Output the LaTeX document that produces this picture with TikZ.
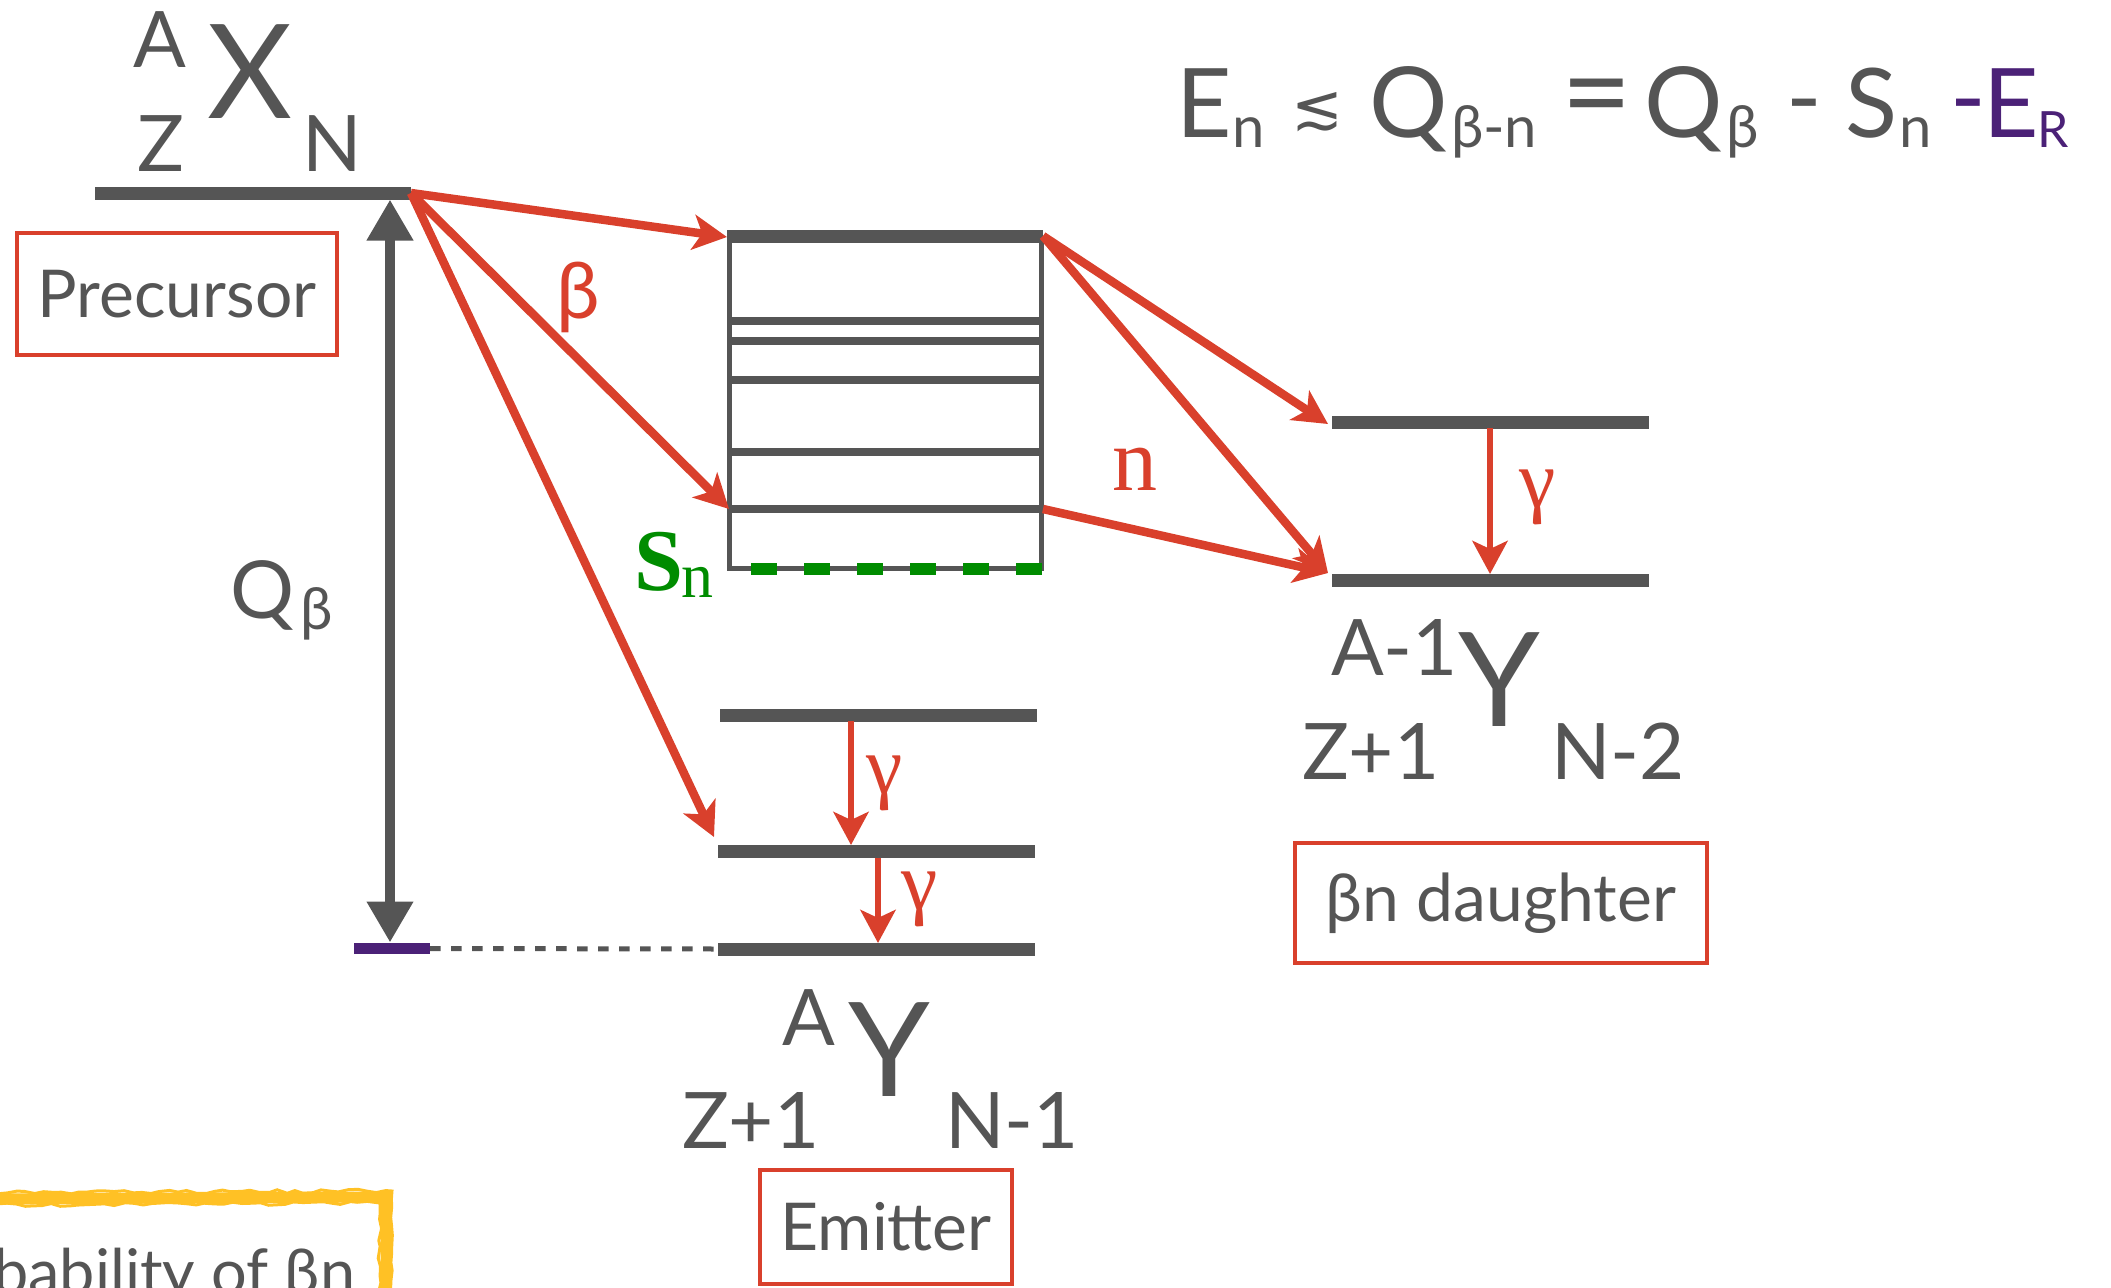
\documentclass[tikz,border=0pt]{standalone}
\usepackage{fontspec}
\setmainfont{Lato}
\newfontfamily\serifR{Liberation Serif}
\newfontfamily\dejavu{DejaVu Sans}
\usetikzlibrary{arrows.meta,decorations.pathmorphing}
\definecolor{dg}{HTML}{555555}
\definecolor{rd}{HTML}{D9402C}
\definecolor{gn}{HTML}{008C00}
\definecolor{pu}{HTML}{4B2177}
\definecolor{yl}{HTML}{FFC125}
\newcommand\fsz[1]{\fontsize{#1}{#1}\selectfont}
\begin{document}
\begin{tikzpicture}[x=1pt,y=-1pt,
  txt/.style={inner sep=0pt, outer sep=0pt, anchor=base west, text=dg},
  ctxt/.style={inner sep=0pt, outer sep=0pt, anchor=center},
  level/.style={draw=dg, line width=13pt},
  inner/.style={draw=dg, line width=8pt},
  rarr/.style={draw=rd, line width=8.5pt, -{Stealth[length=34pt,width=35pt,inset=9pt]}},
  garr/.style={draw=rd, line width=6.5pt, -{Stealth[length=33pt,width=35pt,inset=8pt]}},
  lbl/.style={draw=rd, line width=4pt, text=dg, font=\fsz{66}, inner sep=0pt}]
\useasboundingbox (0,0) rectangle (2111,1287);
\clip (0,0) rectangle (2111,1287);

% ---------- coordinates ----------
\coordinate (preL) at (95,193);   \coordinate (preR) at (411,193);
\coordinate (cTL) at (727,236);   \coordinate (cTR) at (1043,236);
\coordinate (cBL) at (729.5,568); \coordinate (cBR) at (1041,568);
\coordinate (c5L) at (729,509);   \coordinate (c5R) at (1043,509);
\coordinate (e1L) at (720,715);   \coordinate (e1R) at (1037,715);
\coordinate (e2L) at (718,851);   \coordinate (e2R) at (1035,851);
\coordinate (e3L) at (718,949);   \coordinate (e3R) at (1035,949);
\coordinate (d1L) at (1332,422);  \coordinate (d1R) at (1649,422);
\coordinate (d2L) at (1332,580);  \coordinate (d2R) at (1649,580);
\coordinate (qTop) at (390,199.5);\coordinate (qBot) at (390,942.5);
\coordinate (puL) at (354,948.5); \coordinate (puR) at (430,948.5);
\coordinate (a1) at (727,237);    \coordinate (a2) at (729,509);
\coordinate (a3) at (714,837);
\coordinate (b1) at (1328,424);   \coordinate (b2) at (1328,573);
\coordinate (g1s) at (851,721);   \coordinate (g1e) at (851,845);
\coordinate (g2s) at (878,858);   \coordinate (g2e) at (878,943);
\coordinate (gds) at (1490,428);  \coordinate (gde) at (1490,574);

% ---------- levels ----------
\draw[level] (preL) -- (preR);
\draw[dg, line width=5pt] (729.5,236) -- (cBL) -- (cBR) -- (1041,236);
\foreach \yy in {321,341,380,452,509} \draw[inner] (729.5,\yy) -- (1041,\yy);
\draw[level] (cTL) -- (cTR);
\draw[gn, line width=12pt, dash pattern=on 26pt off 27pt] (751,569) -- (1043,569);
\draw[level] (e1L) -- (e1R);
\draw[level] (e2L) -- (e2R);
\draw[level] (e3L) -- (e3R);
\draw[level] (d1L) -- (d1R);
\draw[level] (d2L) -- (d2R);

% Q beta arrow, purple bar, dotted line
\draw[dg, line width=10.5pt, {Triangle[length=41pt,width=44pt]}-{Triangle[length=41pt,width=44pt]}] (qTop) -- (qBot);
\draw[dg, line width=5pt, dash pattern=on 10.5pt off 10.5pt] (puR) -- (e3L);
\draw[pu, line width=11pt] (puL) -- (puR);

% ---------- red arrows ----------
\draw[rarr] (preR) -- (a1);
\draw[rarr] (preR) -- (a2);
\draw[rarr] (preR) -- (a3);
\draw[rarr] (cTR) -- (b1);
\draw[rarr] (cTR) -- (b2);
\draw[rarr] (c5R) -- (b2);
\draw[garr] (g1s) -- (g1e);
\draw[garr] (g2s) -- (g2e);
\draw[garr] (gds) -- (gde);

% ---------- nuclide labels ----------
\node[txt, font=\fsz{78}] (pA) at (133,68) {A};
\node[txt, font=\fsz{131}] (pX) at (207,119) {X};
\node[txt, font=\fsz{78}] (pZ) at (137,171) {Z};
\node[txt, font=\fsz{78}] (pN) at (302,171) {N};

\node[txt, font=\fsz{78}] (eA) at (782,1045) {A};
\node[txt, font=\fsz{131}] (eY) at (848,1096) {Y};
\node[txt, font=\fsz{78}] (eZ) at (682,1148) {Z+1};
\node[txt, font=\fsz{78}] (eN) at (945,1148) {N-1};

\node[txt, font=\fsz{78}] (dA) at (1331,675) {A-1};
\node[txt, font=\fsz{131}] (dY) at (1458,726) {Y};
\node[txt, font=\fsz{78}] (dZ) at (1302,779) {Z+1};
\node[txt, font=\fsz{78}] (dN) at (1551,779) {N-2};

% Q beta label
\node[txt, font=\fsz{80}] (qQ) at (230,618) {Q};
\node[txt, font=\fsz{58}] (qB) at (300,629) {β};

% ---------- formula ----------
\node[txt, font=\fsz{96}] (f1) at (1176,137) {E};
\node[txt, font=\fsz{58}] (f2) at (1232,147) {n};
\node[ctxt, text=dg, font=\dejavu\fsz{62}] (f3) at (1317,112) {≲};
\node[txt, font=\fsz{98}] (f4) at (1369,137) {Q};
\node[txt, font=\fsz{58}] (f5) at (1451,147) {β-n};
\node[ctxt, text=dg, font=\fsz{122}] (f6) at (1597,107) {=};
\node[txt, font=\fsz{98}] (f7) at (1644,137) {Q};
\node[txt, font=\fsz{58}] (f8) at (1726,147) {β};
\node[ctxt, text=dg, font=\fsz{96}] (f9) at (1804,115) {-};
\node[txt, font=\fsz{96}] (f10) at (1845,137) {S};
\node[txt, font=\fsz{58}] (f11) at (1899,147) {n};
\node[ctxt, text=pu, font=\fsz{96}] (f12) at (1968,115) {-};
\node[txt, text=pu, font=\fsz{96}] (f13) at (1983,137) {E};
\node[txt, text=pu, font=\fsz{50}] (f14) at (2037,147) {R};

% ---------- transition labels ----------
\node[txt, text=rd, font=\fsz{78}] (blab) at (556,318) {β};
\node[txt, text=rd, font=\serifR\fsz{90}] (nlab) at (1112,490) {n};
\node[txt, text=rd, font=\serifR\fsz{82}] (gdl) at (1519,507) {γ};
\node[txt, text=rd, font=\serifR\fsz{82}] (g1l) at (866,793) {γ};
\node[txt, text=rd, font=\serifR\fsz{82}] (g2l) at (901,909) {γ};
\node[txt, text=gn, font=\serifR\bfseries\fsz{88}] (snS) at (634,590) {S};
\node[txt, text=gn, font=\serifR\fsz{64}] (snN) at (681,597) {n};

% ---------- boxed labels ----------
\node[lbl, minimum width=320pt, minimum height=122pt] (prec) at (177,294) {Precursor};
\node[lbl, minimum width=252pt, minimum height=114pt] (emit) at (886,1227) {Emitter};
\node[lbl, minimum width=412pt, minimum height=120pt] (bnd) at (1501,903) {βn daughter};

% ---------- yellow rough box (bottom left) ----------
\pgfmathsetseed{7}
\draw[yl, line width=11pt] (-20,1199) -- (386,1197) -- (386,1300);
\draw[yl, line width=3pt, decorate, decoration={random steps, segment length=9pt, amplitude=1.8pt}] (-20,1193) -- (392,1191) -- (392,1300);
\draw[yl, line width=3pt, decorate, decoration={random steps, segment length=9pt, amplitude=1.8pt}] (-20,1205) -- (380,1203) -- (380,1300);
\node[txt, anchor=base east, font=\fsz{63}] (prob) at (355,1294) {Probability of βn};
\end{tikzpicture}
\end{document}
